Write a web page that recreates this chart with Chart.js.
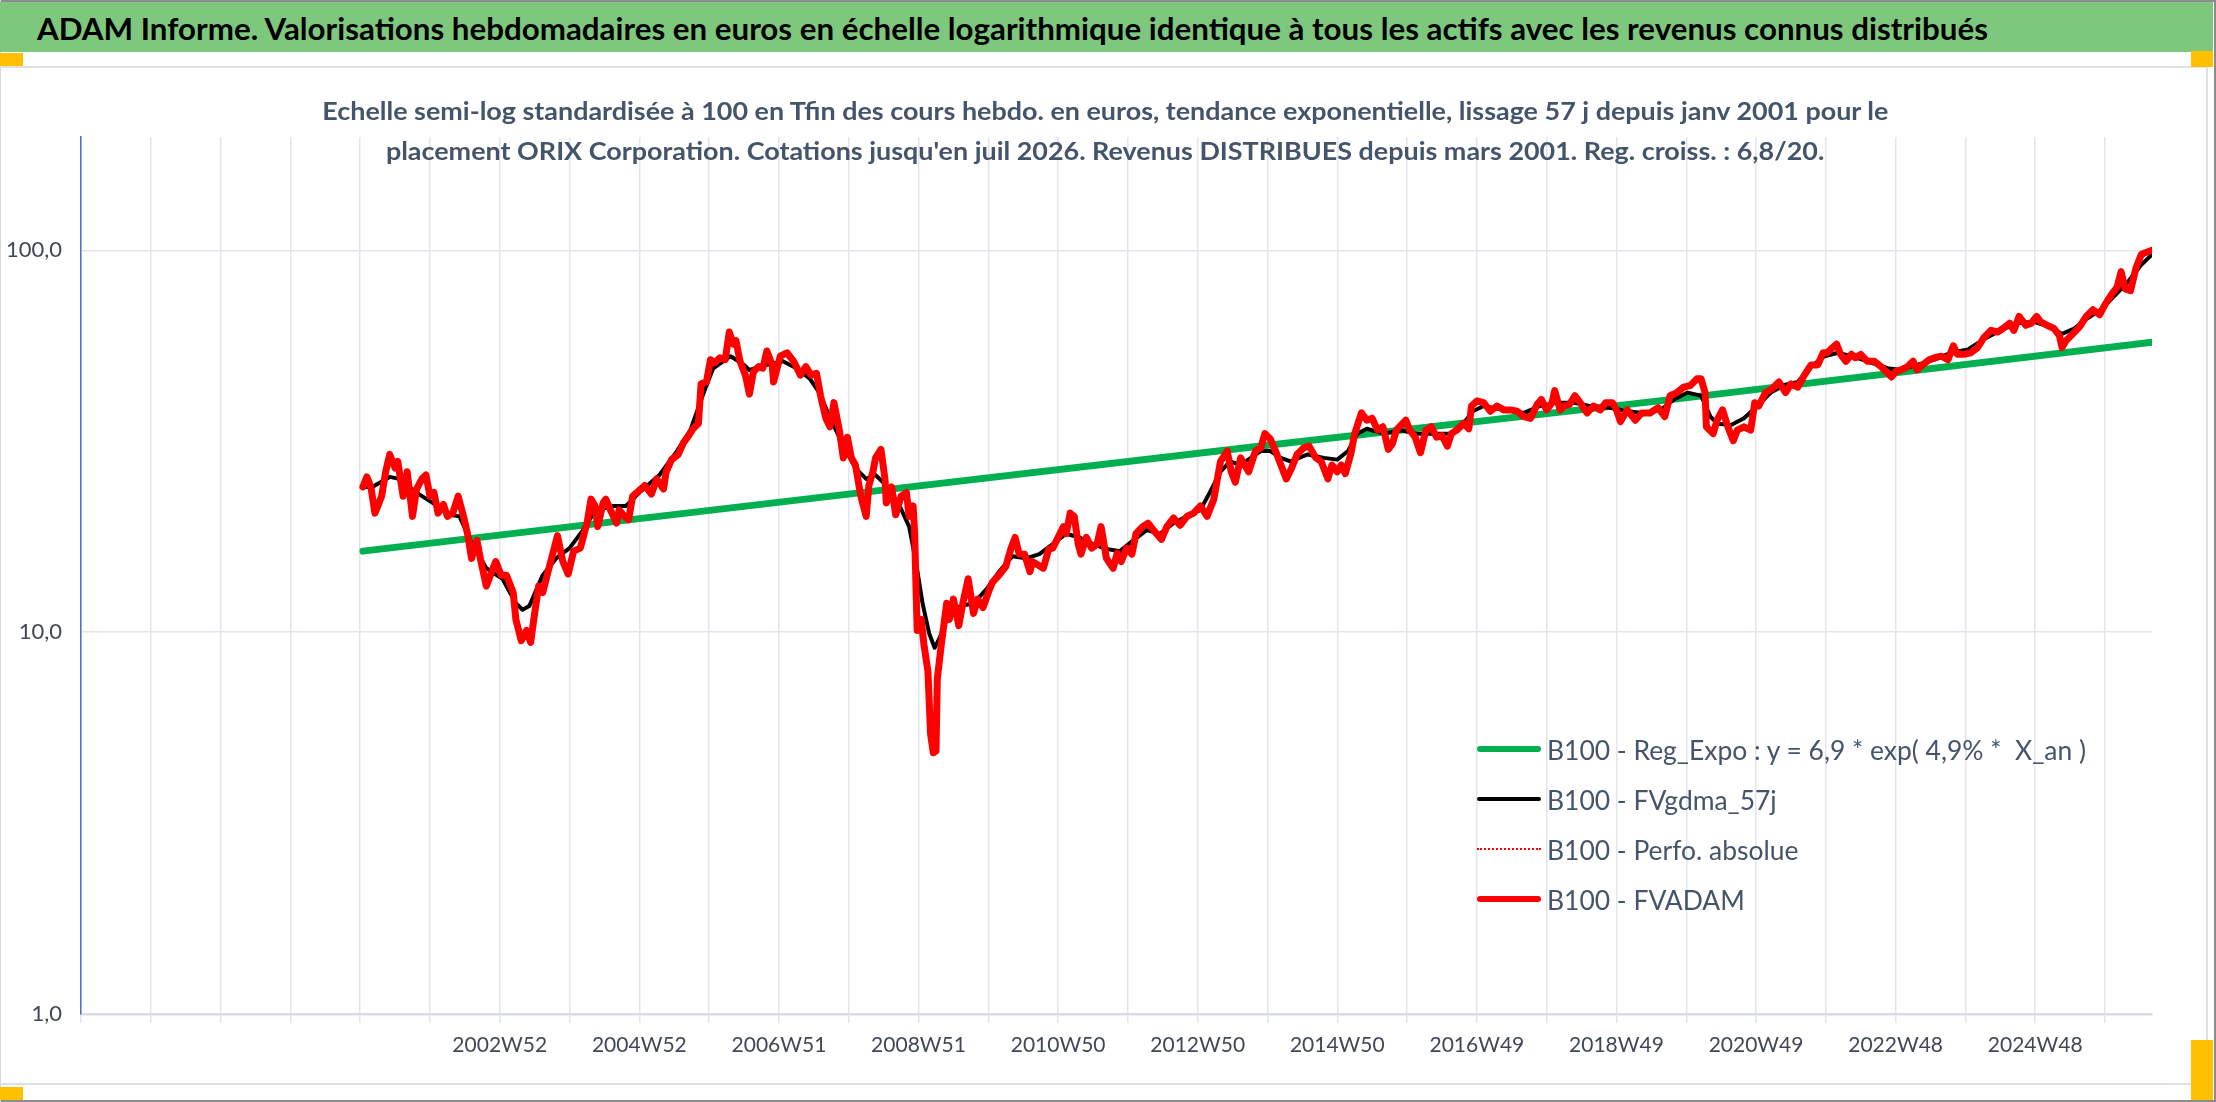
<!DOCTYPE html>
<html lang="fr">
<head>
<meta charset="utf-8">
<title>ADAM Informe - ORIX Corporation</title>
<script src="https://cdn.jsdelivr.net/npm/chart.js@4.4.1/dist/chart.umd.min.js"></script>
<style>
  html, body { margin: 0; padding: 0; background: #fff; }
  #page { position: relative; width: 2216px; height: 1102px; overflow: hidden; background: #fff; font-family: Lato, "Open Sans", sans-serif; }
  .abs { position: absolute; }
  .fit { display: inline-block; white-space: pre; }
  #banner { left: 0; top: 2px; width: 2213px; height: 50px; background: #7ec87e; }
  #bannerText { position: absolute; left: 37px; top: 0; line-height: 52px; font-weight: bold; font-size: 30px; color: #000; }
  #chartBox { left: 0; top: 67px; width: 2207px; height: 1017px; }
  #subtitle { left: 0; width: 2210px; text-align: center; color: #44546a; font-weight: bold; font-size: 25px; }
  #subtitle div { height: 40px; line-height: 40px; }
  #legend { left: 1477px; top: 724px; color: #44546a; font-size: 27px; }
  .row { display: flex; align-items: center; height: 50px; }
  .sample { width: 64px; margin-right: 6px; }
  .handle { background: #ffc000; }
</style>
</head>
<body>
<div id="page">
  <div class="abs" style="left:0;top:0;width:2216px;height:2px;background:#8c8c8c"></div>
  <div class="abs" style="left:2214px;top:0;width:2px;height:1102px;background:#8c8c8c"></div>
  <div class="abs" style="left:0;top:1100px;width:2216px;height:2px;background:#8c8c8c"></div>
  <div class="abs" style="left:0;top:0;width:1px;height:1102px;background:#d6d6d6"></div>

  <div id="banner" class="abs"><span id="bannerText" class="fit">ADAM Informe. Valorisations hebdomadaires en euros en échelle logarithmique identique à tous les actifs avec les revenus connus distribués</span></div>

  <div class="abs" style="left:0;top:66px;width:2208px;height:2px;background:#dde0e4"></div>
  <div class="abs" style="left:2206px;top:66px;width:2px;height:1019px;background:#dde0e4"></div>
  <div class="abs" style="left:0;top:1083px;width:2208px;height:2px;background:#dde0e4"></div>

  <div id="chartBox" class="abs"><canvas id="chart" width="2207" height="1017"></canvas></div>

  <div id="subtitle" class="abs" style="top:90px">
    <div><span class="fit" id="sub1">Echelle semi-log standardisée à 100 en Tfin des cours hebdo. en euros, tendance exponentielle, lissage 57 j depuis janv 2001 pour le</span></div>
    <div><span class="fit" id="sub2">placement ORIX Corporation. Cotations jusqu'en juil 2026. Revenus DISTRIBUES depuis mars 2001. Reg. croiss. : 6,8/20.</span></div>
  </div>

  <div id="legend" class="abs"></div>

  <div class="abs handle" style="left:0;top:53px;width:23px;height:13px"></div>
  <div class="abs handle" style="left:2191px;top:51px;width:22px;height:16px"></div>
  <div class="abs handle" style="left:0;top:1087px;width:23px;height:13px"></div>
  <div class="abs handle" style="left:2191px;top:1040px;width:22px;height:60px"></div>
</div>

<script>
// x = week index counted from the first gridline of the axis (one gridline every 52 weeks)
const xTickLabels = ["", "", "", "", "", "", "2002W52", "", "2004W52", "", "2006W51", "", "2008W51", "",
  "2010W50", "", "2012W50", "", "2014W50", "", "2016W49", "", "2018W49", "", "2020W49", "", "2022W48", "",
  "2024W48", ""];
const yTicks = [1, 10, 100];
const lastWeek = 1543;

// B100 - Reg_Expo
const regExpoPoints = [[210, 16.3], [535, 22.2], [871, 30.5], [1194, 41.0], [1543, 57.4]];

// B100 - FVgdma_57j (smoothed)
const fvgdmaPoints = [
  [210, 24.0], [217, 24.0], [230, 25.5], [237, 25.2], [250, 23.2], [262, 21.8], [275, 20.3], [282, 20.1],
  [290, 17.4], [302, 14.7], [314, 13.8], [324, 11.9], [329, 11.45], [334, 11.7], [344, 14.1], [354, 15.6],
  [364, 16.6], [374, 18.5], [382, 20.5], [394, 21.4], [406, 21.4], [416, 23.2], [431, 25.8], [444, 29.8],
  [454, 33.8], [464, 42.4], [471, 49.1], [484, 52.8], [494, 50.1], [498, 48.6], [511, 50.1], [523, 51.2],
  [533, 49.1], [543, 46.1], [550, 42.4], [560, 35.2], [570, 29.8], [577, 26.9], [585, 25.2], [592, 25.8],
  [600, 24.2], [610, 21.4], [617, 18.9], [622, 15.3], [627, 11.9], [632, 9.9], [636, 9.1], [640, 9.7],
  [645, 10.8], [655, 11.7], [665, 11.9], [675, 13.0], [684, 14.4], [694, 15.8], [704, 15.6], [714, 16.0],
  [724, 17.0], [734, 18.1], [744, 17.7], [754, 17.0], [764, 16.5], [774, 16.3], [784, 17.4], [794, 18.5],
  [804, 18.1], [814, 19.3], [824, 20.1], [834, 20.9], [841, 23.2], [849, 26.3], [856, 28.0], [864, 27.4],
  [871, 28.5], [879, 29.8], [886, 29.8], [894, 28.6], [901, 28.0], [914, 29.2], [926, 28.6], [936, 28.3],
  [944, 29.8], [951, 33.1], [958, 34.1], [971, 33.1], [983, 33.8], [995, 33.1], [1008, 33.1], [1020, 33.1],
  [1030, 35.2], [1037, 37.9], [1045, 39.1], [1060, 38.2], [1075, 37.5], [1087, 39.1], [1100, 39.9], [1112, 39.9],
  [1124, 39.1], [1139, 38.7], [1152, 37.9], [1164, 37.5], [1177, 38.2], [1187, 40.7], [1197, 42.4], [1207, 41.6],
  [1214, 36.7], [1219, 35.2], [1229, 34.8], [1239, 36.3], [1249, 39.1], [1259, 42.4], [1269, 44.3], [1279, 45.2],
  [1289, 49.6], [1299, 52.8], [1309, 53.9], [1319, 52.8], [1331, 51.2], [1346, 49.1], [1356, 48.6], [1368, 50.1],
  [1381, 51.7], [1393, 53.9], [1406, 55.0], [1418, 58.6], [1430, 61.7], [1443, 64.4], [1455, 65.0], [1467, 63.0],
  [1476, 60.4], [1485, 62.4], [1495, 66.4], [1505, 69.9], [1515, 76.0], [1525, 82.6], [1535, 91.6], [1543, 97.5]
];

// B100 - FVADAM (weekly values, also used for Perfo. absolue)
const fvadamPoints = [
  [210, 24.0], [213, 25.5], [216, 24.0], [219, 20.5], [224, 22.7], [227, 26.3], [230, 29.2], [234, 26.9],
  [236, 28.0], [240, 22.7], [243, 26.3], [247, 20.1], [250, 23.7], [254, 25.2], [257, 25.8], [260, 22.7],
  [263, 23.2], [266, 20.5], [270, 21.6], [273, 20.1], [277, 20.5], [281, 22.7], [285, 20.1], [288, 18.1],
  [291, 15.6], [295, 17.4], [298, 15.3], [302, 13.2], [306, 14.4], [309, 15.3], [313, 14.1], [317, 14.1],
  [322, 12.7], [324, 10.8], [328, 9.5], [332, 10.1], [335, 9.4], [338, 11.2], [341, 13.2], [344, 12.7],
  [348, 14.4], [352, 16.3], [355, 17.9], [359, 15.3], [363, 14.2], [367, 16.3], [372, 16.6], [377, 19.3],
  [380, 22.3], [383, 21.4], [385, 18.9], [389, 21.8], [391, 22.3], [395, 20.7], [399, 19.3], [401, 20.9],
  [405, 20.1], [408, 19.7], [411, 22.7], [416, 23.5], [420, 24.2], [425, 23.0], [429, 25.2], [434, 23.7],
  [436, 26.3], [440, 28.3], [445, 29.2], [449, 31.4], [452, 32.4], [456, 34.1], [460, 35.2], [462, 44.7],
  [466, 45.2], [469, 51.7], [472, 50.7], [476, 52.3], [480, 51.7], [483, 61.1], [486, 56.8], [488, 58.0],
  [491, 51.2], [495, 47.1], [498, 42.0], [501, 48.1], [505, 49.6], [508, 49.1], [511, 54.5], [515, 50.1],
  [516, 45.2], [521, 52.8], [526, 53.9], [531, 51.2], [536, 47.1],
  [540, 49.6], [544, 47.1], [548, 47.6], [551, 41.6], [555, 36.3], [558, 34.5], [561, 39.9], [565, 33.8],
  [568, 28.6], [571, 32.4], [574, 28.6], [577, 27.4], [581, 22.7], [585, 20.1], [587, 24.2], [590, 26.3],
  [592, 28.6], [596, 30.1], [599, 25.2], [600, 21.8], [604, 24.0], [607, 20.3], [611, 22.7], [615, 23.2],
  [617, 20.1], [620, 21.4], [621, 18.5], [623, 10.1], [626, 10.8], [628, 9.3], [631, 7.9], [633, 5.4],
  [635, 4.83], [637, 4.88], [638, 7.55], [641, 9.3], [645, 11.9], [647, 10.8], [650, 12.2], [654, 10.4],
  [657, 11.9], [661, 13.8], [665, 11.2], [668, 12.2], [672, 11.6], [676, 12.7], [679, 13.5], [684, 14.1],
  [689, 14.85], [693, 16.6], [696, 17.7], [699, 16.0], [703, 16.0], [707, 14.4], [709, 15.3], [713, 15.0],
  [717, 14.7], [721, 16.5], [724, 16.6], [728, 17.7], [732, 18.9], [734, 18.1], [737, 20.5], [740, 20.1],
  [743, 17.0], [745, 16.0], [749, 17.7], [753, 16.6], [757, 17.0], [760, 18.9], [764, 15.6], [769, 14.7],
  [772, 16.1], [775, 15.3], [779, 16.6], [783, 16.0], [786, 18.1], [791, 18.9], [795, 19.3], [799, 18.5],
  [805, 17.5], [809, 18.9], [814, 19.9], [819, 19.05], [824, 20.1], [829, 20.5], [834, 21.4], [839, 20.1],
  [844, 22.3], [849, 28.0], [854, 29.8], [857, 26.3], [860, 24.7], [864, 28.6], [867, 27.4], [870, 26.3],
  [875, 29.8], [879, 30.4], [882, 33.1], [886, 32.1], [890, 29.8], [894, 27.4], [898, 25.2], [902, 26.9],
  [906, 29.2], [911, 30.4], [915, 30.7], [920, 28.6], [924, 28.0], [929, 25.2], [932, 27.4], [936, 26.3],
  [939, 27.4], [942, 26.0], [946, 29.2], [949, 33.1], [954, 37.5], [958, 35.9], [962, 36.3], [966, 33.8],
  [970, 34.5], [974, 30.1], [977, 31.1], [980, 33.8], [987, 35.9], [990, 33.8], [994, 32.4], [998, 29.5],
  [1002, 33.8], [1006, 34.5], [1010, 32.4], [1014, 32.7], [1018, 30.7], [1021, 33.1], [1025, 33.8], [1030, 35.2],
  [1034, 34.1], [1036, 39.1], [1040, 40.3], [1045, 39.9], [1050, 37.9], [1055, 39.1], [1060, 38.2], [1065, 38.2],
  [1070, 37.9], [1075, 36.7], [1080, 36.3], [1085, 39.5], [1088, 40.7], [1092, 38.2], [1096, 39.9], [1098, 42.9],
  [1102, 38.2], [1105, 39.1], [1109, 39.5], [1113, 41.6], [1117, 39.9], [1122, 37.5], [1127, 39.1], [1132, 38.2],
  [1136, 39.9], [1141, 39.9], [1144, 38.2], [1147, 35.6], [1152, 38.2], [1158, 35.9], [1163, 37.5], [1169, 37.5],
  [1175, 38.7], [1180, 36.7], [1184, 41.6], [1189, 42.4], [1194, 43.8], [1199, 44.2], [1204, 46.1],
  [1207, 46.1], [1210, 42.4], [1211, 34.5], [1216, 33.1], [1219, 35.9], [1223, 38.2], [1227, 34.5], [1231, 31.7],
  [1234, 33.8], [1239, 34.5], [1244, 33.8], [1247, 39.9], [1250, 39.1], [1255, 42.4], [1260, 43.4], [1265, 45.2],
  [1270, 42.4], [1274, 44.7], [1279, 43.8], [1284, 47.1], [1289, 50.1], [1294, 50.1], [1298, 53.9], [1301, 53.9],
  [1305, 55.6], [1308, 56.8], [1311, 53.4], [1315, 51.2], [1319, 53.4], [1322, 52.3], [1326, 53.4], [1331, 51.2],
  [1336, 51.2], [1341, 49.6], [1345, 48.1], [1349, 46.6], [1352, 48.1], [1356, 48.6], [1361, 49.6], [1365, 51.2],
  [1368, 48.6], [1372, 50.1], [1377, 51.7], [1381, 52.3], [1386, 52.8], [1391, 51.7], [1395, 56.2], [1398, 53.4],
  [1403, 53.4], [1408, 53.9], [1413, 55.6], [1418, 59.2], [1423, 61.7], [1428, 61.1], [1432, 62.4], [1437, 64.4],
  [1440, 61.7], [1444, 67.1], [1449, 63.6], [1453, 64.4], [1457, 67.1], [1460, 65.0], [1465, 63.6], [1470, 62.4],
  [1474, 59.8], [1476, 55.6], [1479, 58.0], [1484, 60.4], [1489, 63.0], [1494, 67.1], [1499, 69.9], [1504, 67.8],
  [1508, 72.1], [1513, 76.8], [1517, 80.1], [1520, 87.9], [1523, 79.2], [1527, 78.4], [1531, 89.7], [1535, 97.5],
  [1538, 98.5], [1543, 100.0]
];

const toXY = pts => pts.map(p => ({ x: p[0], y: p[1] }));

const gridColor = "#e2e6ec";
const textColor = "#404858";

const chart = new Chart(document.getElementById("chart").getContext("2d"), {
    type: "line",
    data: {
        datasets: [
            { label: "B100 - Reg_Expo : y = 6,9 * exp( 4,9% *  X_an )", data: toXY(regExpoPoints),
              borderColor: "#00b050", borderWidth: 7, order: 4 },
            { label: "B100 - FVgdma_57j", data: toXY(fvgdmaPoints),
              borderColor: "#000000", borderWidth: 4, order: 3 },
            { label: "B100 - Perfo. absolue", data: toXY(fvadamPoints),
              borderColor: "#ff0000", borderWidth: 2, borderDash: [2, 3], order: 2 },
            { label: "B100 - FVADAM", data: toXY(fvadamPoints),
              borderColor: "#ff0000", borderWidth: 7, order: 1 }
        ]
    },
    options: {
        responsive: false,
        animation: false,
        devicePixelRatio: 1,
        elements: {
            point: { radius: 0, hoverRadius: 0 },
            line: { tension: 0, borderJoinStyle: "round", borderCapStyle: "round", fill: false }
        },
        layout: { padding: { top: 70, right: 55, bottom: 0, left: 0 } },
        plugins: { legend: { display: false }, tooltip: { enabled: false }, title: { display: false } },
        scales: {
            x: {
                type: "linear",
                min: 0,
                max: lastWeek,
                afterFit: s => { s.height = 70; },
                afterBuildTicks: s => { s.ticks = xTickLabels.map((_, i) => ({ value: i * 52 })); },
                grid: { color: gridColor, lineWidth: 1.5, tickLength: 9, tickColor: gridColor, drawTicks: true },
                border: { color: "#d9dde3", width: 2.5 },
                ticks: {
                    autoSkip: false, maxRotation: 0, minRotation: 0, padding: 10,
                    callback: (v, i) => xTickLabels[i],
                    font: { family: "Lato", size: 21 }, color: textColor
                }
            },
            y: {
                type: "logarithmic",
                min: 1,
                max: 198,
                afterFit: s => { s.width = 81; },
                afterBuildTicks: s => { s.ticks = yTicks.map(v => ({ value: v })); },
                grid: { color: gridColor, lineWidth: 1.5, drawTicks: false },
                border: { color: "#4472c4", width: 1.5 },
                ticks: {
                    padding: 19,
                    callback: v => v.toFixed(1).replace(".", ","),
                    font: { family: "Lato", size: 22 }, color: textColor
                }
            }
        }
    }
});

// HTML legend built from the datasets
const legend = document.getElementById("legend");
chart.data.datasets.forEach(ds => {
    const row = document.createElement("div");
    row.className = "row";
    const sample = document.createElement("div");
    sample.className = "sample";
    if (ds.borderDash) {
        sample.style.borderTop = "2px dotted " + ds.borderColor;
    } else {
        const h = ds.borderWidth > 5 ? 6 : 4;
        sample.style.height = h + "px";
        sample.style.background = ds.borderColor;
        sample.style.borderRadius = (h / 2) + "px";
    }
    const txt = document.createElement("span");
    txt.className = "fit legendText";
    txt.textContent = ds.label;
    row.appendChild(sample);
    row.appendChild(txt);
    legend.appendChild(row);
});

// squeeze texts horizontally to the widths of the reference (narrow font)
function fitWidth(el, target, origin) {
    const w = el.getBoundingClientRect().width;
    if (w > 0) {
        el.style.transformOrigin = origin;
        el.style.transform = "scaleX(" + (target / w).toFixed(4) + ")";
    }
    return w > 0 ? target / w : 1;
}
fitWidth(document.getElementById("bannerText"), 1951, "left center");
const subScale = fitWidth(document.getElementById("sub1"), 1566, "center center");
const sub2 = document.getElementById("sub2");
sub2.style.transformOrigin = "center center";
sub2.style.transform = "scaleX(" + subScale.toFixed(4) + ")";
const legendTexts = document.querySelectorAll(".legendText");
const legScale = fitWidth(legendTexts[0], 539, "left center");
legendTexts.forEach((t, i) => {
    if (i > 0) { t.style.transformOrigin = "left center"; t.style.transform = "scaleX(" + legScale.toFixed(4) + ")"; }
});
</script>
</body>
</html>
